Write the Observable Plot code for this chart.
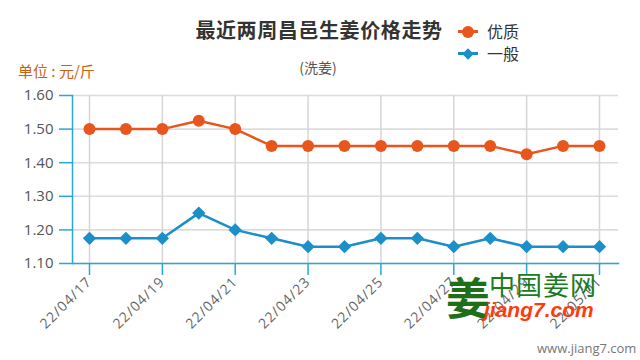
<!DOCTYPE html>
<html><head><meta charset="utf-8">
<script src="https://cdn.jsdelivr.net/npm/d3@7"></script>
<script src="https://cdn.jsdelivr.net/npm/@observablehq/plot@0.6"></script>
<style>
body{margin:0;background:#fff;font-family:"Open Sans","Noto Sans CJK SC",sans-serif}
#wrap{position:relative;width:640px;height:360px;overflow:hidden}
#wrap svg{position:absolute;left:0;top:0}
.t{position:absolute;white-space:nowrap;line-height:1}
#title{left:0;width:638px;text-align:center;top:20px;font-size:20px;font-weight:bold;color:#333;letter-spacing:0.6px;font-family:"Noto Sans CJK SC",sans-serif}
#sub{left:0;width:636px;text-align:center;top:60px;font-size:14px;color:#555;font-family:"Noto Sans CJK SC",sans-serif}
#unit{left:18px;top:63px;font-size:15px;color:#c8600f;font-family:"Noto Sans CJK SC",sans-serif}
.leg{position:absolute;left:458px;height:18px;font-size:16px;color:#333;font-family:"Noto Sans CJK SC",sans-serif}
.leg .ln{position:absolute;left:0;top:8px;width:20px;height:3px}
.leg .mk{position:absolute}
.leg .tx{position:absolute;left:29px;top:1px;white-space:nowrap;line-height:16px}
#logo{left:446px;top:274px;font-size:44px;font-weight:bold;color:#1e6e1a;font-family:"Noto Sans CJK SC",sans-serif}
#cn{left:489px;top:271px;font-size:26px;color:#1e7a1e;font-family:"Noto Sans CJK SC",sans-serif;letter-spacing:1px}
#en{left:484px;top:299px;font-size:21px;font-weight:bold;font-style:italic;color:#ff3b0a;font-family:"Liberation Sans",sans-serif}
#www{left:537px;top:342px;font-size:13px;color:#777;font-family:"Open Sans",sans-serif}
</style></head><body><div id="wrap"></div>
<script>
const dates = ["2022-04-17","2022-04-18","2022-04-19","2022-04-20","2022-04-21","2022-04-22","2022-04-23","2022-04-24","2022-04-25","2022-04-26","2022-04-27","2022-04-28","2022-04-29","2022-04-30","2022-05-01"];
const premium = [1.50,1.50,1.50,1.525,1.50,1.45,1.45,1.45,1.45,1.45,1.45,1.45,1.425,1.45,1.45];
const general = [1.175,1.175,1.175,1.25,1.20,1.175,1.15,1.15,1.175,1.175,1.15,1.175,1.15,1.15,1.15];
const tickDates = ["2022-04-17","2022-04-19","2022-04-21","2022-04-23","2022-04-25","2022-04-27","2022-04-29","2022-05-01"];
const yTicks = [1.10,1.20,1.30,1.40,1.50,1.60];
const seriesNames = ["优质","一般"];
const seriesColors = ["#e8561e","#1a8fc9"];
const titleText = "最近两周昌邑生姜价格走势";
const subText = "(洗姜)";
const unitText = "单位 : 元/斤";

const parse = d3.utcParse("%Y-%m-%d");
const rowsP = dates.map((d,i)=>({date:parse(d), value:premium[i], series:seriesNames[0]}));
const rowsG = dates.map((d,i)=>({date:parse(d), value:general[i], series:seriesNames[1]}));
const rows = rowsP.concat(rowsG);
const ticks = tickDates.map(parse);
const blue = "#2aa7d8";

const chart = Plot.plot({
  width: 640, height: 360,
  marginTop: 95, marginBottom: 97, marginLeft: 72, marginRight: 22,
  insetLeft: 17, insetRight: 19,
  style: {fontFamily: "'Open Sans', sans-serif", background: "transparent"},
  x: {type: "utc", domain: [parse(dates[0]), parse(dates[dates.length-1])]},
  y: {domain: [1.10, 1.60]},
  color: {domain: seriesNames, range: seriesColors},
  marks: [
    Plot.gridY(yTicks, {stroke: "#dcdcdc", strokeOpacity: 1, strokeWidth: 1.6}),
    Plot.gridX(ticks, {stroke: "#d6d6d6", strokeOpacity: 1, strokeWidth: 1.5}),
    Plot.frame({anchor: "left", stroke: blue, strokeWidth: 1.5}),
    Plot.frame({anchor: "bottom", stroke: blue, strokeWidth: 1.5}),
    Plot.axisY(yTicks, {label: null, tickSize: 13, tickPadding: 6, tickFormat: d3.format(".2f"), stroke: blue, strokeWidth: 1.5, fill: "#555", fontSize: 15}),
    Plot.axisX(ticks, {label: null, tickSize: 12, tickRotate: -45, tickPadding: 4, tickFormat: d3.utcFormat("%y/%m/%d"), stroke: blue, strokeWidth: 1.5, fill: "#666", fontSize: 14}),
    Plot.line(rows, {x: "date", y: "value", z: "series", stroke: "series", strokeWidth: 2.5}),
    Plot.dot(rowsP, {x: "date", y: "value", symbol: "circle", r: 6, fill: "series", stroke: "none"}),
    Plot.dot(rowsG, {x: "date", y: "value", symbol: "diamond2", r: 6, fill: "series", stroke: "none"})
  ]
});
const wrap = document.getElementById("wrap");
wrap.appendChild(chart);
chart.querySelectorAll("[aria-label='x-axis tick label'] text").forEach(t=>{ t.style.letterSpacing="1px"; });

function addText(id, txt){ const d=document.createElement("div"); d.className="t"; d.id=id; d.textContent=txt; wrap.appendChild(d); }
addText("title", titleText);
addText("sub", subText);
addText("unit", unitText);
seriesNames.forEach((name,i)=>{
  const g=document.createElement("div"); g.className="leg"; g.style.top=(22+i*22)+"px";
  const ln=document.createElement("div"); ln.className="ln"; ln.style.background=seriesColors[i]; g.appendChild(ln);
  const mk=document.createElement("div"); mk.className="mk"; mk.style.background=seriesColors[i];
  if(i===0){ mk.style.cssText += "left:4px;top:3.5px;width:12px;height:12px;border-radius:50%;"; }
  else { mk.style.cssText += "left:6px;top:5.5px;width:8px;height:8px;transform:rotate(45deg);"; }
  g.appendChild(mk);
  const tx=document.createElement("div"); tx.className="tx"; tx.textContent=name; g.appendChild(tx);
  wrap.appendChild(g);
});
addText("logo","姜");
addText("cn","中国姜网");
addText("en","jiang7.com");
addText("www","www.jiang7.com");
</script></body></html>
